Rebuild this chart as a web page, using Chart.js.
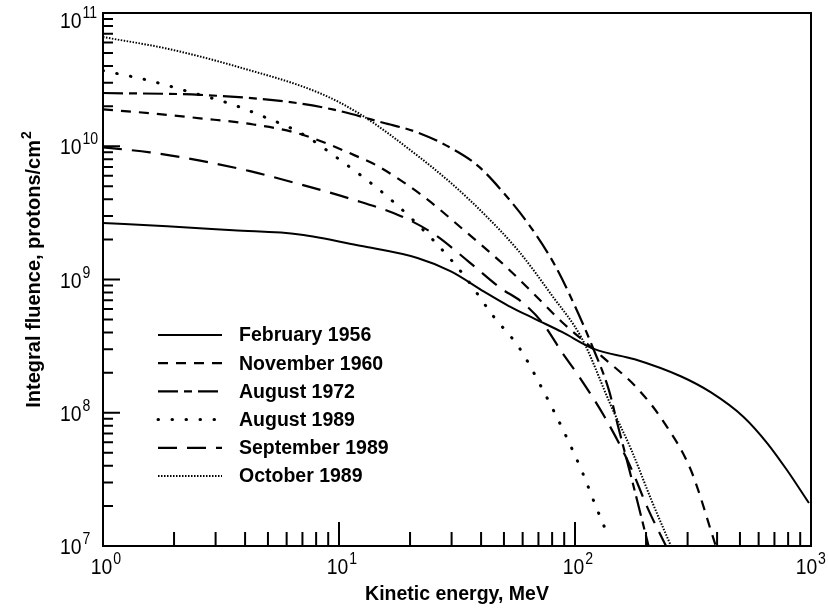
<!DOCTYPE html>
<html lang="en">
<head>
<meta charset="UTF-8">
<title>Integral fluence</title>
<script src="https://cdn.jsdelivr.net/npm/chart.js"></script>
<style>
  body { margin: 0; background: #fff; }
  #wrap { width: 828px; height: 611px; }
</style>
</head>
<body>
<div id="wrap"><canvas id="fluenceChart" width="828" height="611"></canvas></div>
<script>
  // energies in MeV, integral fluence in protons/cm2
  const feb1956E = [1, 1.87, 3.56, 6.8, 12.3, 21.5, 29.8, 41.2, 52.2, 67.5, 88, 121, 179, 282, 377, 518, 653, 792, 980];
  const feb1956F = [2.65e9, 2.51e9, 2.34e9, 2.18e9, 1.79e9, 1.45e9, 1.15e9, 8.1e8, 6.35e8, 5.07e8, 4.04e8, 3.0e8, 2.52e8, 1.87e8, 1.42e8, 9.3e7, 5.9e7, 3.7e7, 2.1e7];

  const nov1960E = [1, 1.58, 2.58, 4.2, 6.8, 12.3, 14.6, 22.8, 33.9, 50.2, 65.5, 88, 130, 186, 239, 310, 395];
  const nov1960F = [1.89e10, 1.77e10, 1.62e10, 1.47e10, 1.24e10, 8.2e9, 7.1e9, 4.2e9, 2.34e9, 1.28e9, 8.1e8, 4.8e8, 2.65e8, 1.49e8, 8.4e7, 3.7e7, 1.0e7];

  const aug1972E = [1, 2.58, 6.0, 9.4, 15.4, 21.5, 29.8, 38.9, 50.2, 63.6, 82.2, 100, 118, 139, 152, 173, 205];
  const aug1972F = [2.51e10, 2.43e10, 2.16e10, 1.89e10, 1.5e10, 1.27e10, 9.7e9, 7.1e9, 4.4e9, 2.6e9, 1.28e9, 6.3e8, 3.2e8, 1.49e8, 8.0e7, 3.3e7, 1.0e7];

  const aug1989E = [1, 1.55, 2.34, 3.56, 4.63, 6.97, 9.9, 16.0, 24.9, 33.9, 45.1, 58.2, 73.0, 89.8, 108, 121, 136];
  const aug1989F = [3.69e10, 3.13e10, 2.55e10, 2.05e10, 1.71e10, 1.24e10, 8.1e9, 4.2e9, 2.0e9, 1.07e9, 5.3e8, 3.05e8, 1.49e8, 7.2e7, 3.5e7, 2.1e7, 1.27e7];

  const sep1989E = [1, 1.58, 2.58, 4.2, 6.8, 11.1, 18.2, 25.2, 35.3, 48.7, 59.4, 72.3, 88, 104, 134, 170, 205, 243];
  const sep1989F = [9.8e9, 9.0e9, 7.8e9, 6.5e9, 5.2e9, 4.05e9, 3.0e9, 2.2e9, 1.37e9, 8.55e8, 6.8e8, 4.8e8, 2.85e8, 1.87e8, 9.2e7, 4.1e7, 1.86e7, 1.0e7];

  const oct1989E = [1, 1.87, 3.81, 8.3, 12.3, 21.5, 29.8, 41.2, 57.6, 79.8, 107, 143, 173, 211, 255];
  const oct1989F = [6.6e10, 5.4e10, 3.9e10, 2.5e10, 1.74e10, 8.5e9, 5.3e9, 3.1e9, 1.64e9, 7.6e8, 3.6e8, 1.1e8, 5.3e7, 2.2e7, 1.0e7];

  const xMajorTicks = [1, 10, 100, 1000];
  const xTickExp = ['0', '1', '2', '3'];
  const yMajorTicks = [1e7, 1e8, 1e9, 1e10, 1e11];
  const yTickExp = ['7', '8', '9', '10', '11'];
  const minorSteps = [2, 3, 4, 5, 6, 7, 8, 9];

  function pts(es, fs) {
    return es.map((e, i) => ({ x: e, y: fs[i] }));
  }

  const datasets = [
    { label: 'February 1956', data: pts(feb1956E, feb1956F), borderDash: [], borderWidth: 2 },
    { label: 'November 1960', data: pts(nov1960E, nov1960F), borderDash: [10, 8], borderWidth: 2.2 },
    { label: 'August 1972', data: pts(aug1972E, aug1972F), borderDash: [20, 6, 8, 6], borderWidth: 2.2 },
    { label: 'August 1989', data: pts(aug1989E, aug1989F), borderDash: [0.5, 13.5], borderWidth: 3, borderCapStyle: 'round' },
    { label: 'September 1989', data: pts(sep1989E, sep1989F), borderDash: [19, 10], borderWidth: 2.2 },
    { label: 'October 1989', data: pts(oct1989E, oct1989F), borderDash: [1.5, 1.5], borderWidth: 2 }
  ];
  datasets.forEach(d => {
    d.borderColor = '#000';
    d.backgroundColor = '#000';
    d.pointRadius = 0;
    d.fill = false;
    d.cubicInterpolationMode = 'monotone';
  });

  const FONT = '"Liberation Sans", Arial, Helvetica, sans-serif';
  const SX = 0.88;

  // "10" with a raised exponent; anchor 'center' centres the whole label on x
  function drawPow(ctx, exp, x, y, center) {
    ctx.save();
    ctx.font = '22px ' + FONT;
    const w = ctx.measureText('10').width * SX;
    ctx.font = '16px ' + FONT;
    const we = ctx.measureText(exp).width * SX;
    let left = center ? x - (w + 1 + we) / 2 : x;
    if (left + w + 1 + we > 826) left = 826 - (w + 1 + we);
    ctx.translate(left, y);
    ctx.scale(SX, 1);
    ctx.textAlign = 'left';
    ctx.textBaseline = 'alphabetic';
    ctx.font = '22px ' + FONT;
    ctx.fillText('10', 0, 0);
    ctx.font = '16px ' + FONT;
    ctx.fillText(exp, w / SX + 1, -10);
    ctx.restore();
  }

  const decorations = {
    id: 'decorations',
    afterDraw(chart) {
      const ctx = chart.ctx;
      const a = chart.chartArea;
      const xs = chart.scales.x, ys = chart.scales.y;
      ctx.save();
      ctx.strokeStyle = '#000';
      ctx.fillStyle = '#000';
      ctx.lineWidth = 2;
      ctx.setLineDash([]);
      ctx.strokeRect(a.left, a.top, a.right - a.left, a.bottom - a.top);

      // x ticks, pointing up into the plot
      ctx.beginPath();
      xMajorTicks.forEach((v, i) => {
        const px = xs.getPixelForValue(v);
        if (i > 0 && i < xMajorTicks.length - 1) {
          ctx.moveTo(px, a.bottom); ctx.lineTo(px, a.bottom - 24);
        }
        if (i < xMajorTicks.length - 1) {
          minorSteps.forEach(k => {
            const mx = xs.getPixelForValue(v * k);
            ctx.moveTo(mx, a.bottom); ctx.lineTo(mx, a.bottom - 14);
          });
        }
      });
      // y ticks, pointing right into the plot
      yMajorTicks.forEach((v, i) => {
        const py = ys.getPixelForValue(v);
        if (i > 0 && i < yMajorTicks.length - 1) {
          ctx.moveTo(a.left, py); ctx.lineTo(a.left + 17, py);
        }
        if (i < yMajorTicks.length - 1) {
          minorSteps.forEach(k => {
            const my = ys.getPixelForValue(v * k);
            ctx.moveTo(a.left, my); ctx.lineTo(a.left + 10, my);
          });
        }
      });
      ctx.stroke();

      // tick labels
      xMajorTicks.forEach((v, i) => {
        drawPow(ctx, xTickExp[i], xs.getPixelForValue(v) + 3, a.bottom + 28, true);
      });
      yMajorTicks.forEach((v, i) => {
        const py = Math.max(ys.getPixelForValue(v) + 8, 28);
        drawPow(ctx, yTickExp[i], 60, py, false);
      });

      // axis titles
      ctx.font = 'bold 19.5px ' + FONT;
      ctx.textAlign = 'center';
      ctx.textBaseline = 'alphabetic';
      ctx.fillText('Kinetic energy, MeV', (a.left + a.right) / 2, 600);

      ctx.save();
      ctx.translate(40, 270);
      ctx.rotate(-Math.PI / 2);
      ctx.font = 'bold 20px ' + FONT;
      const main = 'Integral fluence, protons/cm';
      const w1 = ctx.measureText(main).width;
      ctx.font = 'bold 14px ' + FONT;
      const w2 = ctx.measureText('2').width;
      ctx.textAlign = 'left';
      ctx.font = 'bold 20px ' + FONT;
      ctx.fillText(main, -(w1 + w2) / 2, 0);
      ctx.font = 'bold 14px ' + FONT;
      ctx.fillText('2', -(w1 + w2) / 2 + w1 + 1, -9);
      ctx.restore();

      // legend inside the plot
      const lx0 = 158, lx1 = 222, tx = 239, ly0 = 335, step = 28.2;
      chart.data.datasets.forEach((d, i) => {
        const y = ly0 + i * step;
        ctx.save();
        ctx.lineWidth = d.borderWidth;
        ctx.setLineDash(d.borderDash || []);
        ctx.lineCap = d.borderCapStyle || 'butt';
        ctx.beginPath();
        ctx.moveTo(lx0, y);
        ctx.lineTo(lx1, y);
        ctx.stroke();
        ctx.restore();
        ctx.font = 'bold 19.5px ' + FONT;
        ctx.textAlign = 'left';
        ctx.textBaseline = 'middle';
        ctx.fillText(d.label, tx, y + 1);
      });
      ctx.restore();
    }
  };

  const fluenceChart = new Chart(document.getElementById('fluenceChart'), {
    type: 'line',
    data: { datasets: datasets },
    options: {
      responsive: false,
      devicePixelRatio: 1,
      animation: false,
      layout: { padding: { left: 103, right: 17, top: 13, bottom: 65 } },
      scales: {
        x: { type: 'logarithmic', min: 1, max: 1000, display: false },
        y: { type: 'logarithmic', min: 1e7, max: 1e11, display: false }
      },
      plugins: {
        legend: { display: false },
        tooltip: { enabled: false }
      }
    },
    plugins: [decorations]
  });
</script>
</body>
</html>
